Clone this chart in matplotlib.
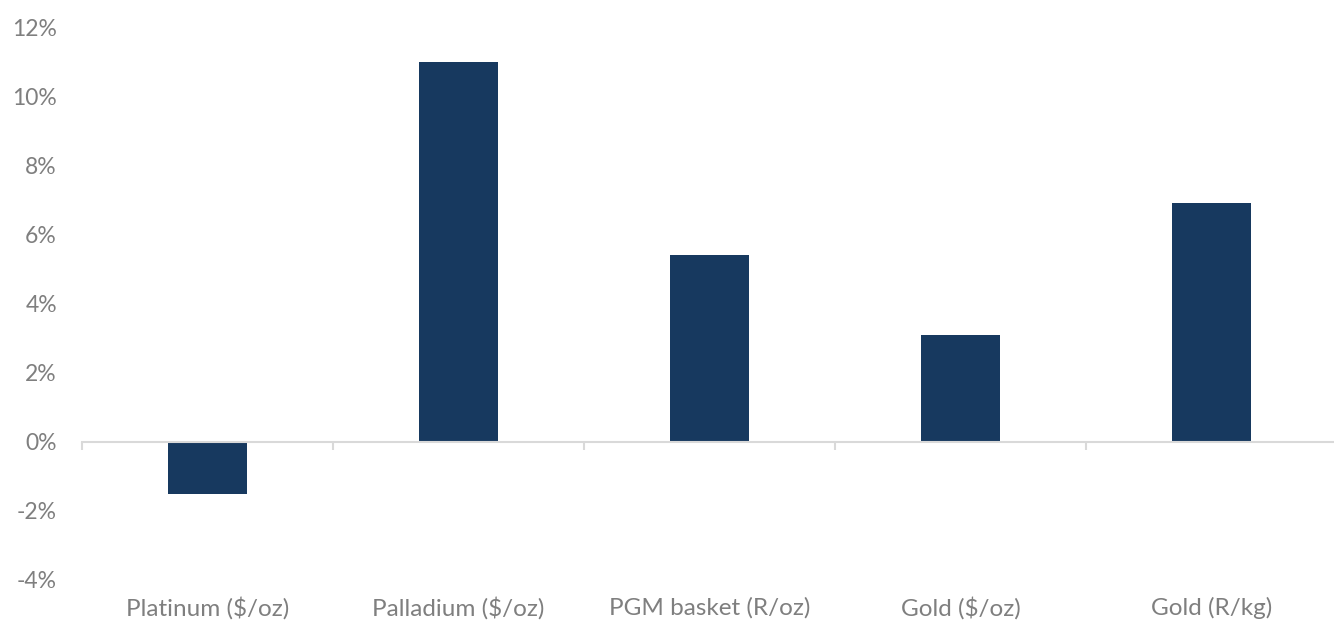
import matplotlib.pyplot as plt
from matplotlib.ticker import FuncFormatter, MultipleLocator
from matplotlib.transforms import blended_transform_factory

# price change by metal, %
metals = ["Platinum ($/oz)", "Palladium ($/oz)", "PGM basket (R/oz)", "Gold ($/oz)", "Gold (R/kg)"]
change = [-1.5, 11.0, 5.4, 3.1, 6.9]

navy = "#17395F"
grey_txt = "#7F7F7F"
grey_line = "#D9D9D9"

plt.rcParams["font.family"] = ["Lato", "DejaVu Sans"]

fig = plt.figure(figsize=(13.34, 6.25), dpi=100)
ax = fig.add_axes([82 / 1334, 1 - 580 / 625, 1255 / 1334, (580 - 27) / 625])

x = list(range(len(metals)))
ax.bar(x, change, width=0.315, color=navy, zorder=2)

ax.set_xlim(-0.5, len(metals) - 0.5)
ax.set_ylim(-4, 12)
ax.yaxis.set_major_locator(MultipleLocator(2))
ax.yaxis.set_major_formatter(FuncFormatter(lambda v, _: f"{v:.0f}%"))
ax.tick_params(axis="y", length=0, pad=18, labelsize=16.5, labelcolor=grey_txt)

for side in ["left", "right", "top"]:
    ax.spines[side].set_visible(False)

# category axis sits on the zero line, ticks between categories
ax.spines["bottom"].set_position(("data", 0))
ax.spines["bottom"].set_color(grey_line)
ax.spines["bottom"].set_linewidth(1.5)
ax.set_xticks([i - 0.5 for i in range(len(metals) + 1)])
ax.set_xticklabels([])
ax.tick_params(axis="x", length=6, width=1.5, color=grey_line, direction="out")

trans = blended_transform_factory(ax.transData, ax.transAxes)
for i, name in enumerate(metals):
    ax.text(i, -0.03, name, transform=trans, ha="center", va="top",
            fontsize=17.5, color=grey_txt)

fig.savefig("out.png", dpi=100)
